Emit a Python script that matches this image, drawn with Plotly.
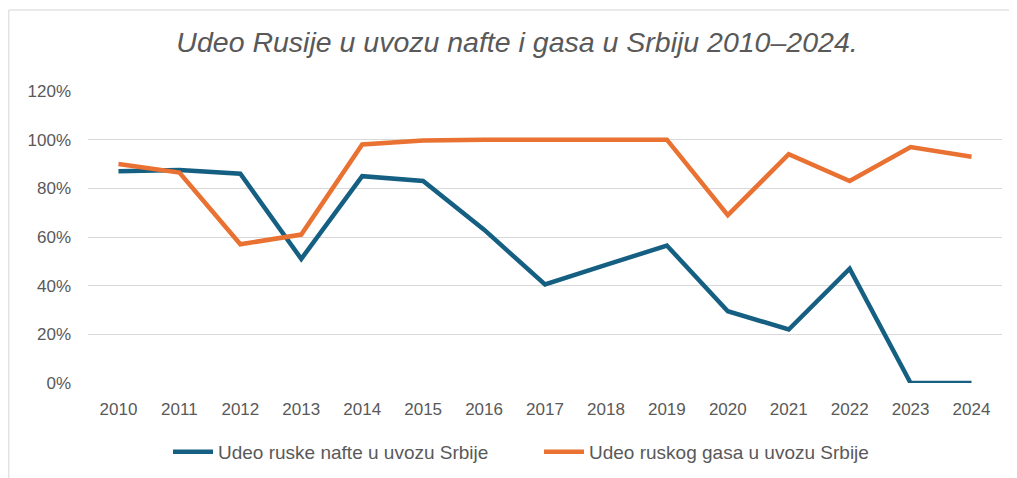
import plotly.graph_objects as go

years = ["2010", "2011", "2012", "2013", "2014", "2015", "2016", "2017",
         "2018", "2019", "2020", "2021", "2022", "2023", "2024"]
oil_share = [87, 87.5, 86, 51, 85, 83, 63, 40.5, 48.5, 56.5, 29.5, 22, 47, 0, 0]
gas_share = [90, 86.5, 57, 61, 98, 99.7, 100, 100, 100, 100, 69, 94, 83, 97, 93]
series_names = ["Udeo ruske nafte u uvozu Srbije", "Udeo ruskog gasa u uvozu Srbije"]
y_ticks = [0, 20, 40, 60, 80, 100, 120]
y_tick_text = ["0%", "20%", "40%", "60%", "80%", "100%", "120%"]
title_text = "Udeo Rusije u uvozu nafte i gasa u Srbiju 2010–2024."

# the page body has an 8px margin, so the figure is drawn 8px in and down
W, H = 1009, 470
L, R, T, B = 80, 15, 83, 95
FONT = "Liberation Sans"
TXT = "#595959"

fig = go.Figure()
fig.add_trace(go.Scatter(x=years, y=oil_share, mode="lines", name=series_names[0],
                         line=dict(color="#156082", width=4.5)))
fig.add_trace(go.Scatter(x=years, y=gas_share, mode="lines", name=series_names[1],
                         line=dict(color="#E97132", width=4.5)))

pw = W - L - R
ph = H - T - B
def px_x(p):
    return (p - L) / pw
def px_y(p):
    return (H - B - p) / ph

frame_col = "#e3e3e3"
shapes = [
    dict(type="line", xref="paper", yref="paper", x0=px_x(0.75), x1=px_x(1030),
         y0=px_y(2), y1=px_y(2), line=dict(color=frame_col, width=1.5)),
    dict(type="line", xref="paper", yref="paper", x0=px_x(0.75), x1=px_x(0.75),
         y0=px_y(2), y1=px_y(490), line=dict(color=frame_col, width=1.5)),
]

fig.update_layout(
    width=W, height=H,
    margin=dict(l=L, r=R, t=T, b=B, autoexpand=False),
    paper_bgcolor="white", plot_bgcolor="white",
    font=dict(family=FONT, color=TXT, size=17),
    title=dict(text=title_text, x=509 / W, xanchor="center", xref="container",
               y=1 - 34 / H, yanchor="middle", yref="container",
               font=dict(family=FONT, size=28.5, color=TXT, style="italic")),
    showlegend=True,
    legend=dict(orientation="h", xref="container", yref="container",
                x=531 / W, xanchor="center", y=1 - 444 / H, yanchor="middle",
                font=dict(family=FONT, size=19, color=TXT),
                itemwidth=40, entrywidth=316, tracegroupgap=0),
    shapes=shapes,
    xaxis=dict(type="category", range=[-0.5, 14.5], showgrid=False, showline=False,
               zeroline=False, ticks="", ticklabelstandoff=14, automargin=False,
               tickfont=dict(family=FONT, size=17, color=TXT)),
    yaxis=dict(range=[0, 120], tickvals=y_ticks, ticktext=y_tick_text,
               showgrid=True, gridcolor="#d9d9d9", gridwidth=1, automargin=False,
               zeroline=False, showline=False, ticks="", ticklabelstandoff=16,
               tickfont=dict(family=FONT, size=17, color=TXT)),
)

fig.write_html("out.html")
